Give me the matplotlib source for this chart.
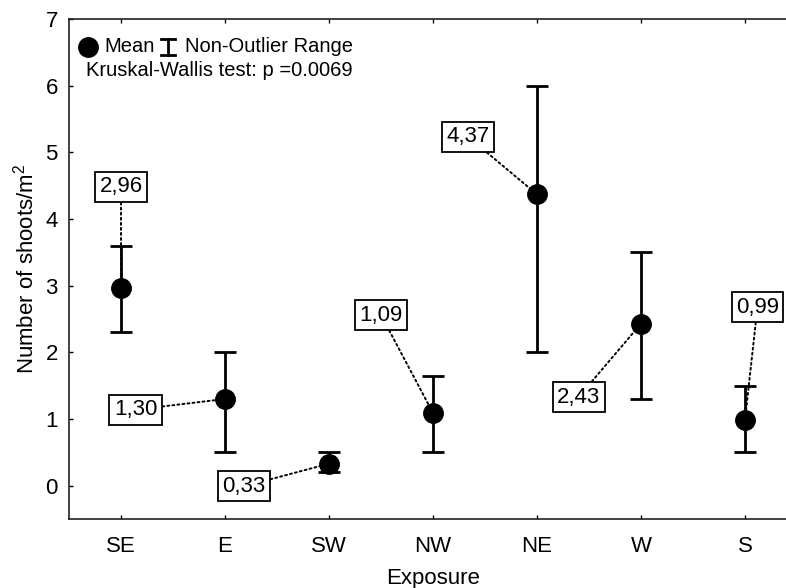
import numpy as np
import matplotlib
matplotlib.use("Agg")
import matplotlib.pyplot as plt

plt.rcParams['font.family'] = ['Liberation Sans', 'DejaVu Sans']
plt.rcParams['mathtext.fontset'] = 'custom'
plt.rcParams['mathtext.rm'] = 'Liberation Sans'
plt.rcParams['mathtext.it'] = 'Liberation Sans'

# Exposure groups, means and non-outlier ranges
exposure = ["SE", "E", "SW", "NW", "NE", "W", "S"]
means = np.array([2.96, 1.30, 0.33, 1.09, 4.37, 2.43, 0.99])
range_low = np.array([2.30, 0.50, 0.20, 0.50, 2.00, 1.30, 0.50])
range_high = np.array([3.60, 2.00, 0.50, 1.65, 6.00, 3.50, 1.50])

# where the value boxes sit (data coords)
label_x = [0.0, 0.14, 1.18, 2.50, 3.34, 4.40, 6.12]
label_y = [4.48, 1.14, -0.01, 2.56, 5.23, 1.33, 2.68]

fig = plt.figure(figsize=(7.86, 5.88), dpi=100)
ax = fig.add_axes([69/786, 69/588, 728/786, 500/588])

x = np.arange(len(exposure))
ax.errorbar(x, means, yerr=[means - range_low, range_high - means],
            fmt='o', color='k', ms=14, capsize=8, elinewidth=2, capthick=2,
            zorder=3)

for i, (m, lx, ly) in enumerate(zip(means, label_x, label_y)):
    ax.annotate(f"{m:.2f}".replace('.', ','), xy=(i, m), xytext=(lx, ly),
                ha='center', va='center', fontsize=16, zorder=2,
                bbox=dict(boxstyle='square,pad=0.2', fc='white', ec='k', lw=1.3),
                arrowprops=dict(arrowstyle='-', color='k', lw=1.4,
                                linestyle=(0, (1.0, 1.6)),
                                shrinkA=0, shrinkB=0))

# legend key drawn by hand
ax.plot([0.026], [0.944], 'o', color='k', ms=14, transform=ax.transAxes, clip_on=False)
ax.text(0.048, 0.944, "Mean", transform=ax.transAxes, fontsize=14.5, va='center')
ax.plot([0.136, 0.136], [0.928, 0.96], color='k', lw=2, transform=ax.transAxes)
ax.plot([0.127, 0.145], [0.96, 0.96], color='k', lw=2, transform=ax.transAxes)
ax.plot([0.127, 0.145], [0.928, 0.928], color='k', lw=2, transform=ax.transAxes)
ax.text(0.160, 0.944, "Non-Outlier Range", transform=ax.transAxes, fontsize=14.5, va='center')
ax.text(0.023, 0.898, "Kruskal-Wallis test: p =0.0069", transform=ax.transAxes,
        fontsize=14.5, va='center')

ax.set_xlim(-0.5, 6.5)
ax.set_ylim(-0.5, 7)
ax.set_xticks(x)
ax.set_xticklabels(exposure)
ax.set_yticks(range(0, 8))
ax.tick_params(direction='in', length=3, width=1, labelsize=16, top=True)
ax.tick_params(axis='x', pad=12)
ax.tick_params(axis='y', pad=8)
for s in ax.spines.values():
    s.set_linewidth(1.2)
    s.set_color('#222222')

ax.set_xlabel("Exposure", fontsize=16, labelpad=8)
ax.set_ylabel("Number of shoots/m$^2$", fontsize=16, labelpad=5)

fig.savefig("out.png", dpi=100)
